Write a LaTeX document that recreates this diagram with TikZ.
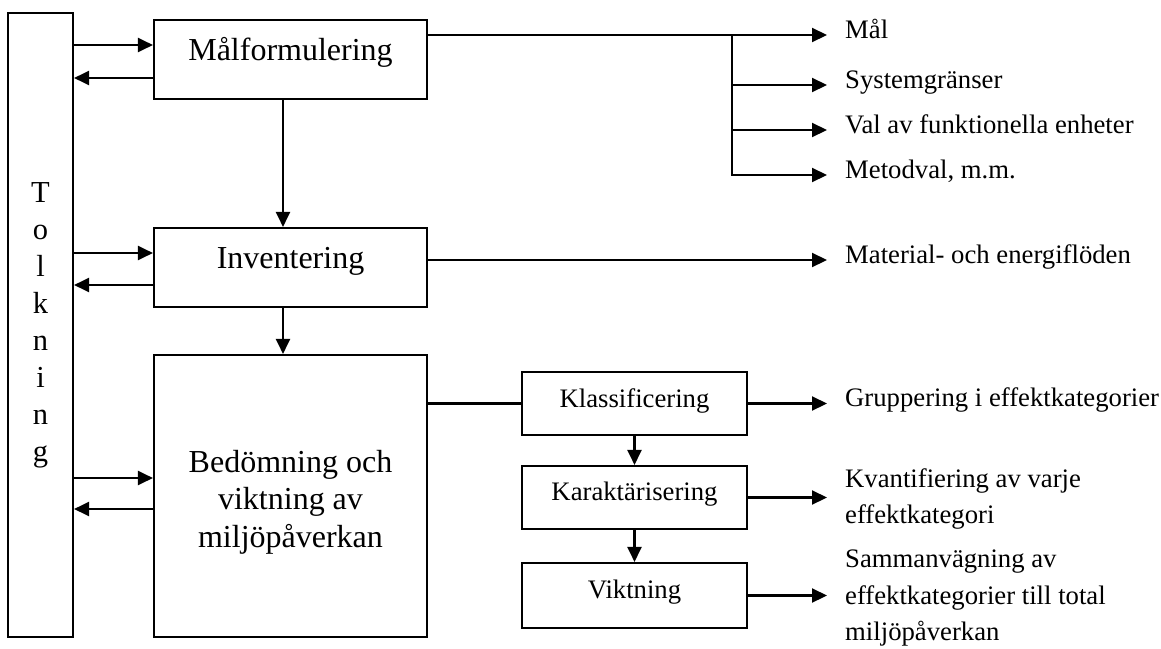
\documentclass[tikz,border=0pt]{standalone}
\usepackage{fontspec}
\setmainfont{Liberation Serif}
\usetikzlibrary{arrows.meta,calc}
\begin{document}
\begin{tikzpicture}[x=1pt,y=-1pt,
  lw/.style={line width=2.1pt},
  arr/.style={line width=2.1pt,-{Triangle[length=15pt,width=14pt]}},
  box/.style={draw,line width=2.1pt,inner sep=0pt},
  big/.style={font=\fontsize{32}{37.5}\selectfont},
  small/.style={font=\fontsize{26.7}{36.8}\selectfont},
  lab/.style={small,inner xsep=18pt,inner ysep=0pt}]
\useasboundingbox (0,0) rectangle (1161,648);

% main boxes
\node[box, minimum width=65pt, minimum height=624pt, align=center,
      font=\fontsize{30.5}{37}\selectfont] (tolk) at (40.5,325) {T\\o\\l\\k\\n\\i\\n\\g};
\node[box, big, minimum width=273pt, text height=40pt, text depth=39pt, anchor=base] (mal) at (290.5,60) {Målformulering};
\node[box, big, minimum width=273pt, text height=40pt, text depth=39pt, anchor=base] (inv) at (290.5,268) {Inventering};
\node[box, minimum width=273pt, minimum height=282pt] (bed) at (290.5,496) {};
\node[big, align=center] (bedtext) at (290.5,502) {Bedömning och\\viktning av\\miljöpåverkan};

% sub boxes
\node[box, small, minimum width=225pt, text height=35pt, text depth=28pt, anchor=base] (kla) at (634.5,407) {Klassificering};
\node[box, small, minimum width=225pt, text height=34pt, text depth=29pt, anchor=base] (kar) at (634.5,500) {Karaktärisering};
\node[box, small, minimum width=225pt, text height=35pt, text depth=30pt, anchor=base] (vik) at (634.5,598) {Viktning};

% labels
\node[lab, anchor=base west] (lmal) at (827,38) {Mål};
\node[lab, anchor=base west] (lsys) at (827,88) {Systemgränser};
\node[lab, anchor=base west] (lval) at (827,133) {Val av funktionella enheter};
\node[lab, anchor=base west] (lmet) at (827,178) {Metodval, m.m.};
\node[lab, anchor=base west] (lmat) at (827,263) {Material- och energiflöden};
\node[lab, anchor=base west] (lgru) at (827,406) {Gruppering i effektkategorier};
\node[lab, anchor=west, align=left] (lkva) at (827,499) {Kvantifiering av varje\\effektkategori};
\node[lab, anchor=west, align=left] (lsam) at (827,598) {Sammanvägning av\\effektkategorier till total\\miljöpåverkan};

% Tolkning <-> phases
\draw[arr] (tolk.east |- 0,45) -- (mal.west |- 0,45);
\draw[arr] (mal.west |- 0,78) -- (tolk.east |- 0,78);
\draw[arr] (tolk.east |- 0,253) -- (inv.west |- 0,253);
\draw[arr] (inv.west |- 0,285) -- (tolk.east |- 0,285);
\draw[arr] (tolk.east |- 0,478) -- (bed.west |- 0,478);
\draw[arr] (bed.west |- 0,509) -- (tolk.east |- 0,509);

% phase flow
\draw[arr] ([xshift=-7.5pt]mal.south) -- ([xshift=-7.5pt]inv.north);
\draw[arr] ([xshift=-7.5pt]inv.south) -- ([xshift=-7.5pt]bed.north);

% top right outputs
\coordinate (j) at (732,35);
\draw[arr] (mal.east |- j) -- (lmal.base west |- j);
\draw[arr] (j) |- (lmet.base west |- 0,175);
\draw[arr] (j |- 0,85) -- (lsys.base west |- 0,85);
\draw[arr] (j |- 0,130) -- (lval.base west |- 0,130);
\draw[arr] (inv.east |- 0,260) -- (lmat.base west |- 0,260);

% assessment
\draw[lw] (bed.east |- kla.west) -- (kla.west);
\draw[arr] (kla.east) -- (kla.east -| lgru.west);
\draw[arr] (kar.east) -- (kar.east -| lkva.west);
\draw[arr] (vik.east) -- (vik.east -| lsam.west);
\draw[arr] (kla.south) -- (kar.north);
\draw[arr] (kar.south) -- (vik.north);
\end{tikzpicture}
\end{document}
